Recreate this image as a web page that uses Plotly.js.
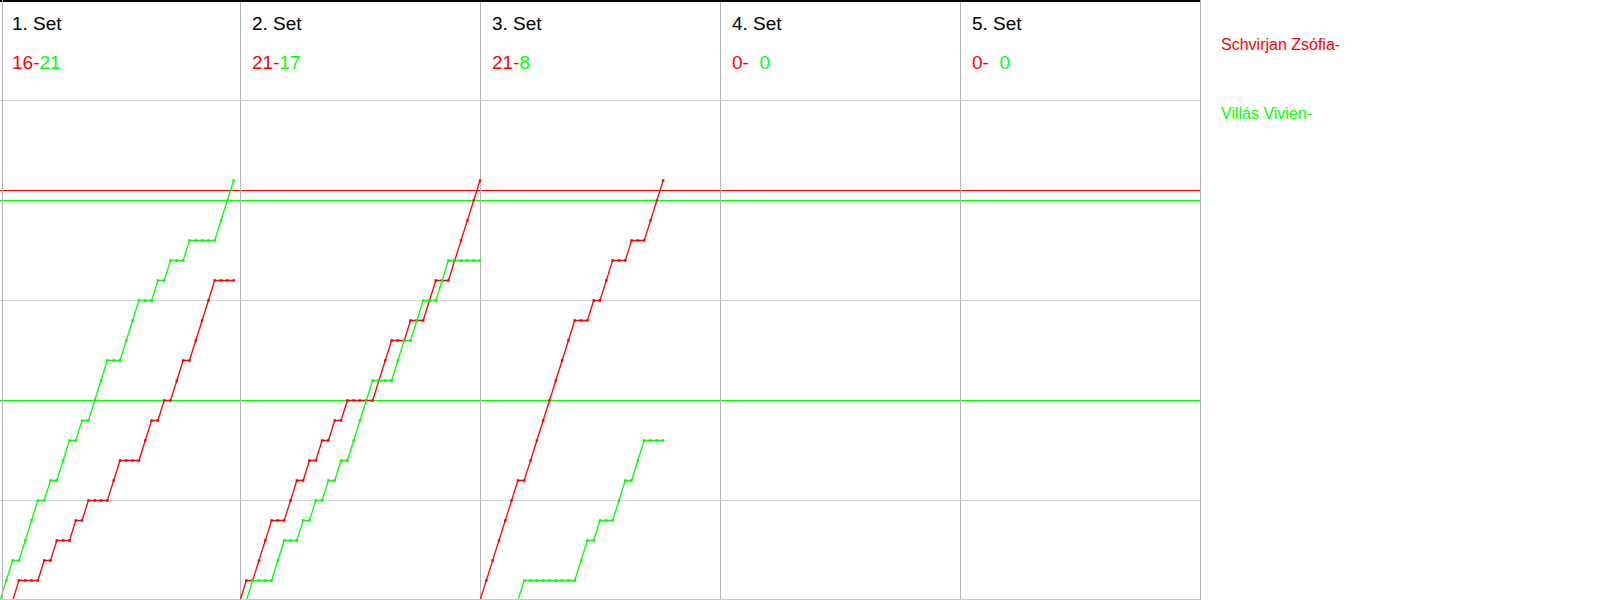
<!DOCTYPE html>
<html>
<head>
<meta charset="utf-8">
<script src="https://cdn.plot.ly/plotly-3.0.1.min.js"></script>
<style>
  html, body { margin: 0; padding: 0; background: #fff; }
  #chart { width: 1600px; height: 600px; }
</style>
</head>
<body>
<div id="chart"></div>
<script>
// ---- Data ----
const playerRed = 'Schvirjan Zsófia';
const playerGreen = 'Villás Vivien';
const setLabels = ['1. Set', '2. Set', '3. Set', '4. Set', '5. Set'];
const setScoresRed = [16, 21, 21, 0, 0];
const setScoresGreen = [21, 17, 8, 0, 0];

// cumulative score after each rally (index 0 = start of set)
const red1 = [0,0,0,1,1,1,1,2,2,3,3,3,4,4,5,5,5,5,6,7,7,7,7,8,9,9,10,10,11,12,12,13,14,15,16,16,16,16];
const green1 = [0,1,2,2,3,4,5,5,6,6,7,8,8,9,9,10,11,12,12,12,13,14,15,15,15,16,16,17,17,17,18,18,18,18,18,19,20,21];
const red2 = [0,1,1,2,3,4,4,4,5,6,6,7,7,8,8,9,9,10,10,10,10,10,11,12,13,13,13,14,14,14,15,16,16,16,17,18,19,20,21];
const green2 = [0,0,1,1,1,1,2,3,3,3,4,4,5,5,6,6,7,7,8,9,10,11,11,11,11,12,13,13,14,15,15,15,16,17,17,17,17,17,17];
const red3 = [0,1,2,3,4,5,6,6,7,8,9,10,11,12,13,14,14,14,15,15,16,17,17,17,18,18,18,19,20,21];
const green3 = [0,0,0,0,0,0,0,1,1,1,1,1,1,1,1,1,2,3,3,4,4,4,5,6,6,7,8,8,8,8];

const redSets = [red1, red2, red3, [], []];
const greenSets = [green1, green2, green3, [], []];

// horizontal reference lines
const refRed = [20.5];
const refGreen = [10, 20];
const gridY = [5, 15, 25];

// ---- Layout config ----
const SLOT = 38;              // rally slots per set panel
const NSETS = setLabels.length;
const W = 1200, H = 600;
const RED = '#ff0000', GREEN = '#00ff00';
const FONT = 'Liberation Sans, Arial, sans-serif';

const traces = [];
function addTrace(vals, k, color, name) {
  if (!vals.length) return;
  traces.push({
    type: 'scatter', mode: 'lines+markers', name: name,
    x: vals.map((v, i) => k * SLOT + i),
    y: vals,
    line: { color: color, width: 1.3 },
    marker: { color: color, size: 2.5, symbol: 'square' },
    hoverinfo: 'x+y', showlegend: false, cliponaxis: false
  });
}
for (let k = 0; k < NSETS; k++) {
  addTrace(redSets[k], k, RED, playerRed);
  addTrace(greenSets[k], k, GREEN, playerGreen);
}

const shapes = [];
// borders
shapes.push({ type: 'line', xref: 'paper', yref: 'paper', x0: 0, x1: 1, y0: 1 - 1 / H, y1: 1 - 1 / H, line: { color: '#000', width: 2 } });
shapes.push({ type: 'line', xref: 'paper', yref: 'paper', x0: 2.5 / W, x1: 2.5 / W, y0: 0, y1: 1, line: { color: '#b4b4b4', width: 1 } });
shapes.push({ type: 'line', xref: 'paper', yref: 'paper', x0: 1 + 0.5 / W, x1: 1 + 0.5 / W, y0: 0, y1: 1, line: { color: '#b4b4b4', width: 1 } });
shapes.push({ type: 'line', xref: 'paper', yref: 'paper', x0: 0, x1: 1, y0: 0.5 / H, y1: 0.5 / H, line: { color: '#c8c8c8', width: 1 } });
// reference lines
refRed.forEach(v => shapes.push({ type: 'line', xref: 'paper', yref: 'y', x0: 0, x1: 1, y0: v, y1: v, line: { color: RED, width: 1 }, layer: 'below' }));
refGreen.forEach(v => shapes.push({ type: 'line', xref: 'paper', yref: 'y', x0: 0, x1: 1, y0: v, y1: v, line: { color: GREEN, width: 1 }, layer: 'below' }));

const annotations = [];
const px = x => x / W, py = y => 1 - y / H;
for (let k = 0; k < NSETS; k++) {
  const left = k * (W / NSETS) + 10;
  annotations.push({
    xref: 'paper', yref: 'paper', x: px(left), y: py(23), xanchor: 'left', yanchor: 'middle',
    text: setLabels[k], showarrow: false, font: { family: FONT, size: 19, color: '#000' }
  });
  const rs = String(setScoresRed[k]);
  const gs = String(setScoresGreen[k]);
  const pad = rs.length < 2 ? '\u00A0\u00A0' : '';
  annotations.push({
    xref: 'paper', yref: 'paper', x: px(left), y: py(63), xanchor: 'left', yanchor: 'middle',
    text: '<span style="color:' + RED + '">' + rs + '-</span><span style="color:' + GREEN + '">' + pad + gs + '</span>',
    showarrow: false, font: { family: FONT, size: 19 }
  });
}
annotations.push({ xref: 'paper', yref: 'paper', x: px(1219), y: py(44), xanchor: 'left', yanchor: 'middle',
  text: playerRed + '-', showarrow: false, font: { family: FONT, size: 16, color: RED } });
annotations.push({ xref: 'paper', yref: 'paper', x: px(1219), y: py(114), xanchor: 'left', yanchor: 'middle',
  text: playerGreen + '-', showarrow: false, font: { family: FONT, size: 16, color: GREEN } });

const dividers = [];
for (let k = 1; k < NSETS; k++) dividers.push(k * SLOT);

const layout = {
  width: 1600, height: 600,
  margin: { l: 0, r: 400, t: 0, b: 0, pad: 0 },
  paper_bgcolor: '#fff', plot_bgcolor: '#fff',
  showlegend: false,
  xaxis: { range: [0, NSETS * SLOT], tickvals: dividers, showticklabels: false, ticks: '',
    showgrid: true, gridcolor: '#b4b4b4', gridwidth: 1, zeroline: false, showline: false, fixedrange: true },
  yaxis: { range: [0.025, 30.025], tickvals: gridY, showticklabels: false, ticks: '',
    showgrid: true, gridcolor: '#d3d3d3', gridwidth: 1, zeroline: false, showline: false, fixedrange: true },
  shapes: shapes,
  annotations: annotations,
  font: { family: FONT }
};

Plotly.newPlot('chart', traces, layout, { staticPlot: true, displayModeBar: false });
</script>
</body>
</html>
